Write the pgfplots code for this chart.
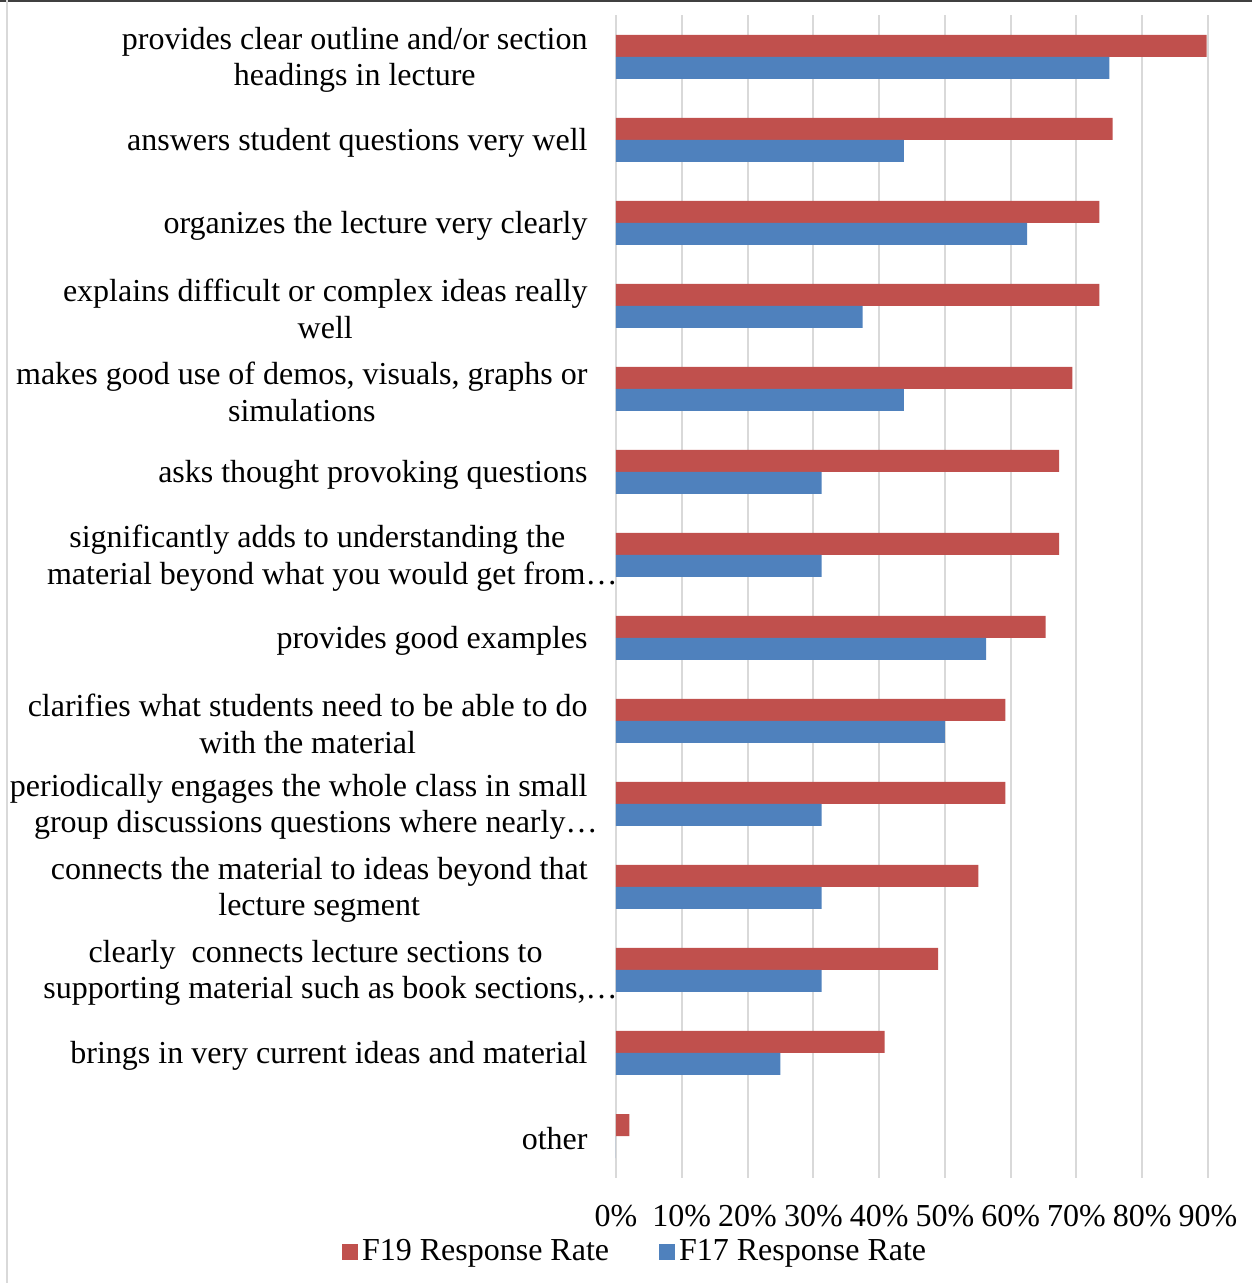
\documentclass[border=0pt]{standalone}
\usepackage{pgfplots}
\pgfplotsset{compat=1.18}
\usepackage{fontspec}
\setmainfont{Liberation Serif}
\definecolor{redbar}{HTML}{C0504D}
\definecolor{bluebar}{HTML}{4F81BD}
\definecolor{gridc}{HTML}{D9D9D9}
\begin{document}
\begin{tikzpicture}
\begin{axis}[
  scale only axis, width=296pt, height=581pt,
  xbar, bar width=11pt,
  xmin=0, xmax=90, ymin=-0.5, ymax=13.5,
  xtick={0,10,...,90},
  xticklabels={0\%,10\%,20\%,30\%,40\%,50\%,60\%,70\%,80\%,90\%},
  ytick={0,...,13},
  yticklabels={
    {other},
    {brings in very current ideas and material},
    {clearly~ connects lecture sections to\\supporting material such as book sections,…\hspace*{-15pt}},
    {connects the material to ideas beyond that\\lecture segment},
    {periodically engages the whole class in small\\group discussions questions where nearly…\hspace*{-17pt}},
    {clarifies what students need to be able to do\\with the material},
    {provides good examples},
    {significantly adds to understanding the\\material beyond what you would get from…\hspace*{-15pt}},
    {asks thought provoking questions},
    {makes good use of demos, visuals, graphs or\\simulations},
    {explains difficult or complex ideas really\\well},
    {organizes the lecture very clearly},
    {answers student questions very well},
    {provides clear outline and/or section\\headings in lecture}},
  xmajorgrids, grid style={gridc, line width=1pt},
  axis line style={draw=none},
  major tick length=0pt,
  tick label style={font=\fontsize{16pt}{18.3pt}\selectfont},
  yticklabel style={align=center, anchor=east, inner sep=0pt, xshift=-14pt, yshift=-1.5pt},
  xticklabel style={anchor=base, inner sep=0pt, yshift=-24.5pt},
  legend columns=2,
  legend style={draw=none, fill=none, at={(axis description cs:0.034,-0.0638)}, anchor=center,
    font=\fontsize{16pt}{18.3pt}\selectfont,
    /tikz/every even column/.append style={column sep=23pt}},
  legend image code/.code={\fill[#1] (0pt,-4pt) rectangle (8pt,4pt);},
]
\addplot[fill=redbar, draw=none, bar shift=5.5pt] coordinates {
  (2.04,0) (40.82,1) (48.98,2) (55.10,3) (59.18,4) (59.18,5) (65.31,6)
  (67.35,7) (67.35,8) (69.39,9) (73.47,10) (73.47,11) (75.51,12) (89.80,13)};
\addlegendentry{F19 Response Rate}
\addplot[fill=bluebar, draw=none, bar shift=-5.5pt] coordinates {
  (0,0) (25,1) (31.25,2) (31.25,3) (31.25,4) (50,5) (56.25,6)
  (31.25,7) (31.25,8) (43.75,9) (37.5,10) (62.5,11) (43.75,12) (75,13)};
\addlegendentry{F17 Response Rate}
\end{axis}
\draw[line width=1pt, black!75] (-308pt,588.25pt) -- (318pt,588.25pt);
\draw[line width=1pt, gridc] (-304.5pt,588.75pt) -- (-304.5pt,-52.75pt);
\pgfresetboundingbox
\useasboundingbox (-308pt,-52.75pt) rectangle (318pt,588.75pt);
\end{tikzpicture}
\end{document}
